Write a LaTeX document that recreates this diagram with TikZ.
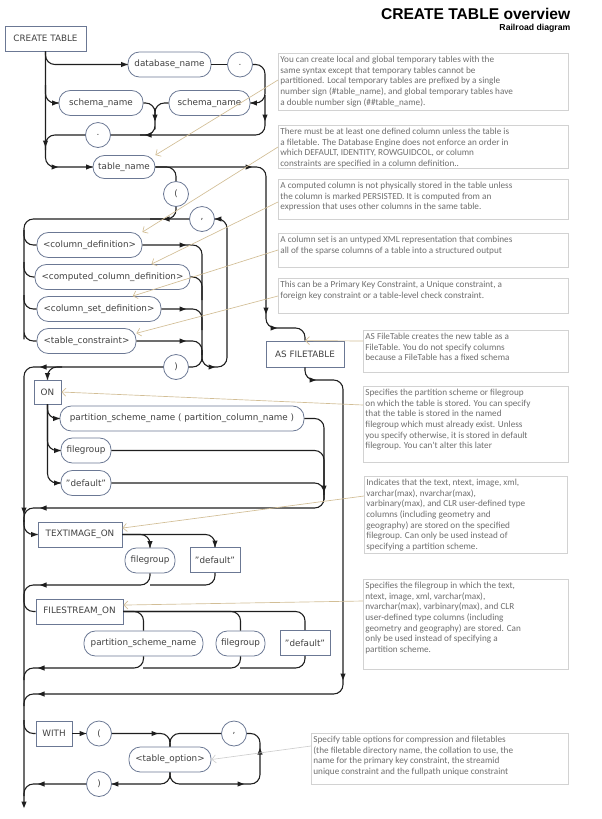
\documentclass[tikz,border=0pt]{standalone}
\usepackage{fontspec}
\setmainfont{DejaVu Sans}
\newfontfamily\titlefam{Liberation Sans}
\newfontfamily\notefam{Carlito}
\usetikzlibrary{calc}
\definecolor{nodec}{HTML}{6B7894}
\definecolor{txtc}{HTML}{404040}
\definecolor{railc}{HTML}{1E1E1E}
\definecolor{notec}{HTML}{D2D2D2}
\definecolor{notet}{HTML}{6E6E6E}
\definecolor{tanc}{HTML}{D2BE96}
\definecolor{grayc}{HTML}{CFCFCF}
\newcommand\nodefont{\fontsize{6.6pt}{8pt}\selectfont}
\newcommand\notefont{\notefam\fontsize{6.9pt}{8pt}\selectfont}
\newcommand\ntext[3]{\parbox[c][#2][t]{#1}{\raggedright #3}}
% arrow tips drawn as small filled triangles (R right, L left, D down, U up)
\newcommand\tR[1]{\fill[railc] #1 -- ++(-6.5,-2.6) -- ++(0,5.2) -- cycle;}
\newcommand\tL[1]{\fill[railc] #1 -- ++(6.5,-2.6) -- ++(0,5.2) -- cycle;}
\newcommand\tD[1]{\fill[railc] #1 -- ++(-2.6,-6.5) -- ++(5.2,0) -- cycle;}
\newcommand\tU[1]{\fill[railc] #1 -- ++(-2.6,6.5) -- ++(5.2,0) -- cycle;}
\usetikzlibrary{arrows.meta}
\begin{document}
\begin{tikzpicture}[x=0.75pt,y=-0.75pt,
 base/.style={draw=nodec, line width=0.6pt, fill=white, text=txtc, font=\nodefont, inner sep=0pt, minimum height=18.75pt},
 rbox/.style={base, rectangle},
 pill/.style={base, rectangle, rounded corners=8.5pt},
 circ/.style={base, circle, minimum size=18.75pt},
 rail/.style={draw=railc, line width=0.8pt, rounded corners=7pt},
 wd/.style={minimum width=#1*0.75pt},
 note/.style={draw=notec, line width=0.6pt, inner xsep=1.5pt, inner ysep=2pt, anchor=north west, text=notet, font=\notefont},
 tanl/.style={draw=tanc, line width=0.5pt, -{Straight Barb[length=3pt,width=6pt]}},
 grayl/.style={draw=grayc, line width=0.5pt, -{Straight Barb[length=3pt,width=6pt]}}
]
\useasboundingbox (0,0) rectangle (602,819);
% title
\node[anchor=east, font=\titlefam\bfseries\fontsize{11.7pt}{14pt}\selectfont] (title) at (575,14) {CREATE TABLE overview};
\node[anchor=east, font=\titlefam\bfseries\fontsize{6.5pt}{8pt}\selectfont] (sub) at (575,28.5) {Railroad diagram};
% nodes
\node[rbox,wd=81] (ct) at (45.5,38.5) {CREATE TABLE};
\node[pill,wd=83] (dbn) at (169.5,64.5) {database\_name};
\node[circ] (dot1) at (240,64.5) {.};
\node[pill,wd=84] (sch1) at (101,103) {schema\_name};
\node[pill,wd=81] (sch2) at (209.5,103) {schema\_name};
\node[circ] (dot2) at (98,135) {.};
\node[pill,wd=62,minimum height=17.25pt] (tn) at (124,167) {table\_name};
\node[circ] (lp) at (176,194) {(};
\node[circ] (cm1) at (202,219) {,};
\node[pill,wd=105] (cd) at (89.5,245) {<column\_definition>};
\node[pill,wd=155] (ccd) at (112.5,277) {<computed\_column\_definition>};
\node[pill,wd=124] (csd) at (99,309) {<column\_set\_definition>};
\node[pill,wd=99] (tc) at (86.5,341) {<table\_constraint>};
\node[circ] (rp) at (176,367) {)};
\node[rbox,wd=78,minimum height=19.5pt] (asf) at (305,354) {AS FILETABLE};
\node[rbox,wd=27,minimum height=18pt] (on) at (47.5,392) {ON};
\node[pill,wd=244] (psn) at (182,418.5) {partition\_scheme\_name ( partition\_column\_name )};
\node[pill,wd=50] (fg1) at (86,450.5) {filegroup};
\node[pill,wd=50] (df1) at (86,483) {"default"};
\node[rbox,wd=84] (tio) at (80,534.5) {TEXTIMAGE\_ON};
\node[pill,wd=50] (fg2) at (150,560.5) {filegroup};
\node[rbox,wd=50] (df2) at (215,560) {"default"};
\node[rbox,wd=87] (fso) at (79.5,611.5) {FILESTREAM\_ON};
\node[pill,wd=119] (psn2) at (143.5,643.5) {partition\_scheme\_name};
\node[pill,wd=49] (fg3) at (240.5,643.5) {filegroup};
\node[rbox,wd=50] (df3) at (305,643) {"default"};
\node[rbox,wd=36] (wth) at (54,733.5) {WITH};
\node[circ] (lp2) at (99,733.5) {(};
\node[circ] (cm2) at (234,733.5) {,};
\node[pill,wd=82] (topt) at (170,759.5) {<table\_option>};
\node[circ] (rp2) at (99,784) {)};
% notes
\node[note] (n1) at (278,53) {\ntext{214.5pt}{38.75pt}{You can create local and global temporary tables with the\\same syntax except that temporary tables cannot be\\partitioned. Local temporary tables are prefixed by a single\\number sign (\#table\_name), and global temporary tables have\\a double number sign (\#\#table\_name).}};
\node[note] (n2) at (278,125) {\ntext{214.5pt}{28.25pt}{There must be at least one defined column unless the table is\\a filetable. The Database Engine does not enforce an order in\\which DEFAULT, IDENTITY, ROWGUIDCOL, or column\\constraints are specified in a column definition..}};
\node[note] (n3) at (278,179) {\ntext{214.5pt}{26pt}{A computed column is not physically stored in the table unless\\the column is marked PERSISTED. It is computed from an\\expression that uses other columns in the same table.}};
\node[note] (n4) at (278,233) {\ntext{214.5pt}{21.5pt}{A column set is an untyped XML representation that combines\\all of the sparse columns of a table into a structured output}};
\node[note] (n5) at (278,278) {\ntext{214.5pt}{22.25pt}{This can be a Primary Key Constraint, a Unique constraint, a\\foreign key constraint or a table-level check constraint.}};
\node[note] (n6) at (363,330) {\ntext{150.75pt}{27.5pt}{AS FileTable creates the new table as a\\FileTable. You do not specify columns\\because a FileTable has a fixed schema}};
\node[note] (n7) at (363,386) {\ntext{150.75pt}{53pt}{Specifies the partition scheme or filegroup\\on which the table is stored. You can specify\\that the table is stored in the named\\filegroup which must already exist. Unless\\you specify otherwise, it is stored in default\\filegroup. You can't alter this later}};
\node[note] (n8) at (364,476) {\ntext{149.25pt}{53.75pt}{Indicates that the text, ntext, image, xml,\\varchar(max), nvarchar(max),\\varbinary(max), and CLR user-defined type\\columns (including geometry and\\geography) are stored on the specified\\filegroup. Can only be used instead of\\specifying a partition scheme.}};
\node[note] (n9) at (363,579) {\ntext{150.75pt}{63.5pt}{Specifies the filegroup in which the text,\\ntext, image, xml, varchar(max),\\nvarchar(max), varbinary(max), and CLR\\user-defined type columns (including\\geometry and geography) are stored. Can\\only be used instead of specifying a\\partition scheme.}};
\node[note] (n10) at (311,733) {\ntext{189.75pt}{34.25pt}{Specify table options for compression and filetables\\(the filetable directory name, the collation to use, the\\name for the primary key constraint, the streamid\\unique constraint and the fullpath unique constraint}};
% rails: top
\draw[rail] (ct.south) |- (dbn.west);
\draw[rail] (ct.south) |- (tn.west);
\draw[rail] (45.5,85) |- (sch1.west);
\draw[rail] (dbn.east) -- (dot1.west);
\draw[rail] (dot1.east) -| (265,103) -- (sch2.east);
\draw[rail] (265,95) |- (dot2.east);
\draw[rail] (sch1.east) -| (155,120) |- (140,135);
\draw[rail] (sch2.west) -| (155,120);
\draw[rail] (dot2.west) -| (45.5,150);
% table_name to AS FILETABLE and the long right rail
\draw[rail] (tn.east) -| (266,328) -| (asf.north);
\draw[rail] (asf.south) |- (343,380) |- (24,694) -- (24,706);
% columns
\draw[rail] (tn.east) -| (lp.north);
\draw[rail] (lp.south) |- (150,219);
\draw[rail] (cm1.west) -| (24,330) |- (tc.west);
\draw[rail] (24,230) |- (cd.west);
\draw[rail] (24,262) |- (ccd.west);
\draw[rail] (24,295) |- (csd.west);
\draw[rail] (cd.east) -| (202,367) -| (227,219) -- (cm1.east);
\draw[rail] (ccd.east) -| (202,300);
\draw[rail] (csd.east) -| (202,330);
\draw[rail] (tc.east) -| (202,355);
\draw[rail] (202,350) |- (rp.east);
\draw[rail] (rp.west) -| (24,804);
% ON
\draw[rail] (62,367) -| (on.north);
\draw[rail] (on.south) |- (psn.west);
\draw[rail] (on.south) |- (fg1.west);
\draw[rail] (on.south) |- (df1.west);
\draw[rail] (psn.east) -| (324,508) -| (24,522);
\draw[rail] (fg1.east) -| (324,495);
\draw[rail] (df1.east) -| (324,500);
% TEXTIMAGE_ON
\draw[rail] (24,520) |- (tio.west);
\draw[rail] (tio.east) -| (fg2.north);
\draw[rail] (tio.east) -| (df2.north);
\draw[rail] (df2.south) |- (150,585);
\draw[rail] (fg2.south) |- (24,585) -- (24,597);
% FILESTREAM_ON
\draw[rail] (24,597) |- (fso.west);
\draw[rail] (fso.east) -| (psn2.north);
\draw[rail] (fso.east) -| (fg3.north);
\draw[rail] (fso.east) -| (df3.north);
\draw[rail] (df3.south) |- (240,668);
\draw[rail] (fg3.south) |- (143,668);
\draw[rail] (psn2.south) |- (24,668) -- (24,680);
% WITH
\draw[rail] (24,720) |- (wth.west);
\draw[rail] (wth.east) -- (lp2.west);
\draw[rail] (lp2.east) -| (topt.north);
\draw[rail] (cm2.west) -| (topt.north);
\draw[rail] (topt.south) |- (260,784) |- (cm2.east);
\draw[rail] (topt.south) |- (rp2.east);
\draw[rail] (rp2.west) -| (24,796);
% arrow tips
\tR{(dbn.west)} \tR{(sch1.west)} \tL{(sch2.east)} \tD{(265,121)} \tD{(155,121)}
\tL{(145,135)} \tD{(45.5,147)} \tR{(58,167)} \tR{(tn.west)} \tR{(252,167)}
\tL{(163,219)} \tL{(cm1.east)} \tR{(186,245)} \tR{(186,309)} \tR{(186,341)}
\tR{(215,367)} \tL{(40,367)} \tD{(on.north)} \tR{(psn.west)} \tR{(fg1.west)} \tR{(df1.west)}
\tD{(324,492)} \tL{(40,508)} \tD{(24,514)} \tR{(tio.west)} \tD{(fg2.north)} \tD{(df2.north)}
\tL{(40,585)} \tL{(38,668)} \tD{(266,314)} \tR{(277,328)} \tR{(316,380)} \tD{(343,680)}
\tL{(38,694)} \tR{(lp2.west)} \tR{(158,733.5)} \tR{(244,784)} \tU{(260,748)}
\tL{(rp2.east)} \tL{(38,784)} \tD{(24,808)}
% annotation connectors
\draw[tanl] ($(n1.north west)+(0,27)$) -- (tn.north east);
\draw[tanl] ($(n2.north west)+(0,22)$) -- (cd.north east);
\draw[tanl] ($(n3.north west)+(0,23)$) -- ($(ccd.north west)!0.75!(ccd.north east)$);
\draw[tanl] ($(n4.north west)+(0,17)$) -- ($(csd.north west)!0.77!(csd.north east)$);
\draw[tanl] ($(n5.north west)+(0,18)$) -- ($(tc.north east)!0.2!(tc.south east)$);
\draw[tanl] ($(n6.north west)+(0,11)$) -- (asf.north);
\draw[tanl] ($(n7.north west)+(0,19)$) -- (on.east);
\draw[tanl] ($(n8.north west)+(0,20)$) -- ($(tio.north east)!0.25!(tio.south east)$);
\draw[tanl] ($(n9.north west)+(0,22)$) -- ($(fso.north east)!0.25!(fso.south east)$);
\draw[grayl] ($(n10.north west)+(0,13)$) -- (topt.east);
\end{tikzpicture}
\end{document}
